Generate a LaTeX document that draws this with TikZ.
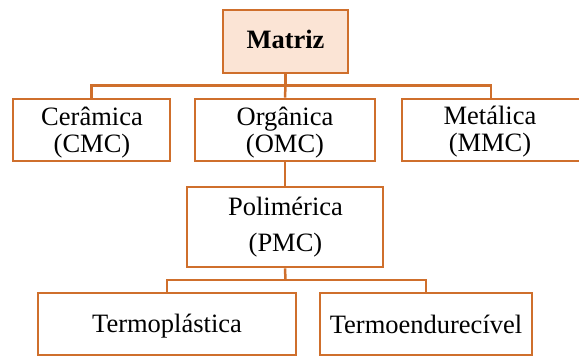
\documentclass[tikz,border=0pt]{standalone}
\usepackage{fontspec}
\setmainfont{Liberation Serif}
\definecolor{boxline}{HTML}{CF6F2C}
\definecolor{boxfill}{HTML}{FBE4D5}
\tikzset{
  box/.style={draw=boxline, line width=2.9pt, rectangle, inner sep=0pt, fill=white},
  lbl/.style={anchor=base, inner sep=0pt, font=\fontsize{26.5}{30}\selectfont},
  link/.style={draw=boxline, line width=2.5pt}
}
\begin{document}
\begin{tikzpicture}[x=1pt, y=-1pt]
  \useasboundingbox (0,0) rectangle (579,357);
  \clip (0,0) rectangle (579,357);
  \fill[white] (0,0) rectangle (579,357);

  % boxes
  \node[box, fill=boxfill, minimum width=125pt, minimum height=63pt] (matriz) at (285.5,41.5) {};
  \node[box, minimum width=157pt, minimum height=62pt] (ceramica) at (91.5,130) {};
  \node[box, minimum width=180pt, minimum height=62pt] (organica) at (285,130) {};
  \node[box, minimum width=178pt, minimum height=62pt] (metalica) at (491,130) {};
  \node[box, minimum width=196pt, minimum height=80pt] (polimerica) at (285,227) {};
  \node[box, minimum width=258pt, minimum height=62pt] (termoplastica) at (167,324) {};
  \node[box, minimum width=212pt, minimum height=62pt] (termoendurecivel) at (426,324) {};

  % labels
  \node[lbl, font=\fontsize{26.5}{30}\selectfont\bfseries] (matriz-t) at (285.5,48.3) {Matriz};
  \node[lbl] (ceramica-t1) at (92,125) {Cerâmica};
  \node[lbl] (ceramica-t2) at (92,152) {(CMC)};
  \node[lbl] (organica-t1) at (285,125) {Orgânica};
  \node[lbl] (organica-t2) at (285,152) {(OMC)};
  \node[lbl] (metalica-t1) at (490,124.5) {Metálica};
  \node[lbl] (metalica-t2) at (490,151) {(MMC)};
  \node[lbl] (polimerica-t1) at (285.5,215) {Polimérica};
  \node[lbl] (polimerica-t2) at (285.5,251.7) {(PMC)};
  \node[lbl] (termoplastica-t) at (167,332.7) {Termoplástica};
  \node[lbl] (termoendurecivel-t) at (426,333) {Termoendurecível};

  % bus coordinates
  \coordinate (bus1) at (285.5,85.5);
  \coordinate (bus2) at (285.5,280);

  % connectors
  \draw[link] (matriz.south) -- (bus1);
  \draw[link] (ceramica.north) |- (bus1) -| (metalica.north);
  \draw[link] (bus1) -- (organica.north);
  \draw[link] (organica.south) -- (polimerica.north);
  \draw[link] (polimerica.south) -- (bus2);
  \draw[link] (termoplastica.north) |- (bus2) -| (termoendurecivel.north);
\end{tikzpicture}
\end{document}
